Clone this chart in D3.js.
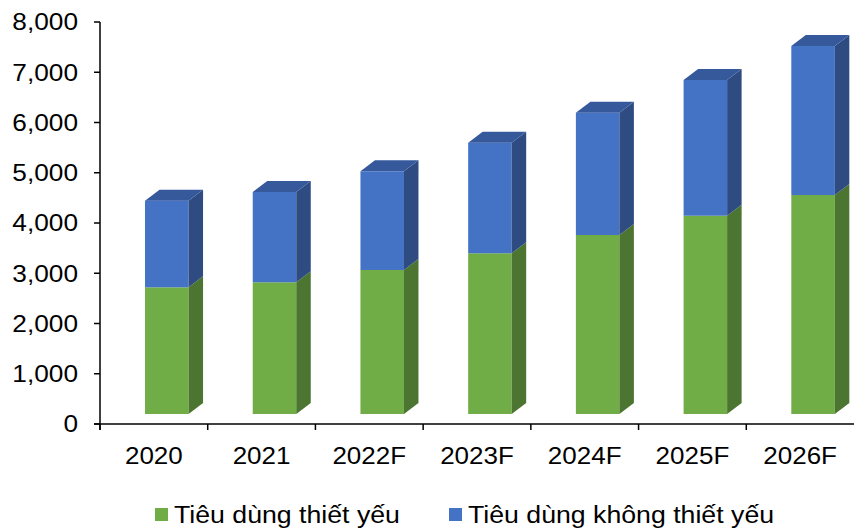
<!DOCTYPE html>
<html>
<head>
<meta charset="utf-8">
<script src="https://cdn.jsdelivr.net/npm/d3@7"></script>
<style>
  body { margin: 0; background: #fff; }
  text { font-family: "Liberation Sans", Arial, sans-serif; fill: #000; }
</style>
</head>
<body>
<div id="chart"></div>
<script>
/* chart data */
var categories = ["2020", "2021", "2022F", "2023F", "2024F", "2025F", "2026F"];
var essential = [2720, 2820, 3065, 3397, 3761, 4145, 4557];
var nonEssential = [1725, 1797, 1964, 2201, 2434, 2701, 2965];
var yTicks = [0, 1000, 2000, 3000, 4000, 5000, 6000, 7000, 8000];
var seriesNames = ["Tiêu dùng thiết yếu", "Tiêu dùng không thiết yếu"];

var width = 854;
var height = 528;
var plot = {left: 100, right: 854, top: 22, bottom: 424};
var depth = {x: 14.5, y: 11};
var floorLift = 10;
var fontSize = 23;

var colors = {
  green: {front: "#70ad47", side: "#4b7530", top: "#5a8c3a"},
  blue: {front: "#4472c4", side: "#2e4b82", top: "#36599c"}
};

var svg = d3.select("#chart").append("svg")
    .attr("width", width)
    .attr("height", height);

var x = d3.scaleBand().domain(categories).range([plot.left, plot.right]).padding(0);
var y = d3.scaleLinear().domain([0, 8000]).range([plot.bottom, plot.top]);

/* the text in the picture is a bit wider than the font, so stretch it */
function stretch(k) {
  return function (sel) {
    sel.each(function () {
      var w = this.getComputedTextLength();
      d3.select(this).attr("textLength", w * k).attr("lengthAdjust", "spacingAndGlyphs");
    });
  };
}

/* draw one box segment: front face, side face and optional top face */
function box(g, x0, w, yTop, yBot, c, withTop) {
  var x1 = x0 + w;
  g.append("rect")
      .attr("x", x0).attr("y", yTop)
      .attr("width", w).attr("height", yBot - yTop)
      .attr("fill", c.front);
  g.append("path")
      .attr("d", "M" + x1 + "," + yTop + "L" + (x1 + depth.x) + "," + (yTop - depth.y) +
        "L" + (x1 + depth.x) + "," + (yBot - depth.y) + "L" + x1 + "," + yBot + "Z")
      .attr("fill", c.side);
  if (withTop) {
    g.append("path")
        .attr("d", "M" + x0 + "," + yTop + "L" + x1 + "," + yTop + "L" + (x1 + depth.x) + "," + (yTop - depth.y) +
          "L" + (x0 + depth.x) + "," + (yTop - depth.y) + "Z")
        .attr("fill", c.top);
  }
}

/* bars */
var bars = svg.append("g");
var step = x.step();
categories.forEach(function (cat, i) {
  var x0 = x(cat) + step * 0.418;
  var w = step * 0.404;
  var g = bars.append("g");
  var base = y(0) - floorLift;
  box(g, x0, w, y(essential[i]), base, colors.green, false);
  box(g, x0, w, y(essential[i] + nonEssential[i]), y(essential[i]), colors.blue, true);
});

/* y axis */
var yAxis = svg.append("g");
yAxis.append("line")
    .attr("x1", plot.left).attr("x2", plot.left)
    .attr("y1", plot.top).attr("y2", plot.bottom + 6)
    .attr("stroke", "#000").attr("stroke-width", 1.5);
yAxis.selectAll("line.tick")
    .data(yTicks).enter()
    .append("line").attr("class", "tick")
    .attr("x1", plot.left - 6).attr("x2", plot.left)
    .attr("y1", function (d) { return y(d); })
    .attr("y2", function (d) { return y(d); })
    .attr("stroke", "#000").attr("stroke-width", 1.5);
yAxis.selectAll("text")
    .data(yTicks).enter()
    .append("text")
    .attr("x", 78)
    .attr("y", function (d) { return y(d); })
    .attr("dy", "0.36em")
    .attr("text-anchor", "end")
    .attr("font-size", fontSize)
    .text(function (d) { return d3.format(",")(d); })
    .call(stretch(1.14));

/* x axis */
var xAxis = svg.append("g");
xAxis.append("line")
    .attr("x1", plot.left - 6).attr("x2", plot.right)
    .attr("y1", plot.bottom).attr("y2", plot.bottom)
    .attr("stroke", "#000").attr("stroke-width", 1.5);
xAxis.selectAll("line.tick")
    .data(categories).enter()
    .append("line").attr("class", "tick")
    .attr("x1", function (d) { return x(d); })
    .attr("x2", function (d) { return x(d); })
    .attr("y1", plot.bottom).attr("y2", plot.bottom + 6)
    .attr("stroke", "#000").attr("stroke-width", 1.5);
xAxis.selectAll("text")
    .data(categories).enter()
    .append("text")
    .attr("x", function (d) { return x(d) + step / 2; })
    .attr("y", 464)
    .attr("text-anchor", "middle")
    .attr("font-size", fontSize)
    .text(function (d) { return d; })
    .call(stretch(1.13));

/* legend */
var legend = svg.append("g");
var legendItems = [
  {name: seriesNames[0], color: colors.green.front, x: 155},
  {name: seriesNames[1], color: colors.blue.front, x: 449}
];
legendItems.forEach(function (d) {
  legend.append("rect")
      .attr("x", d.x).attr("y", 508)
      .attr("width", 13).attr("height", 13)
      .attr("fill", d.color);
  legend.append("text")
      .attr("x", d.x + 19).attr("y", 523)
      .attr("font-size", fontSize)
      .text(d.name)
      .call(stretch(1.16));
});
</script>
</body>
</html>
